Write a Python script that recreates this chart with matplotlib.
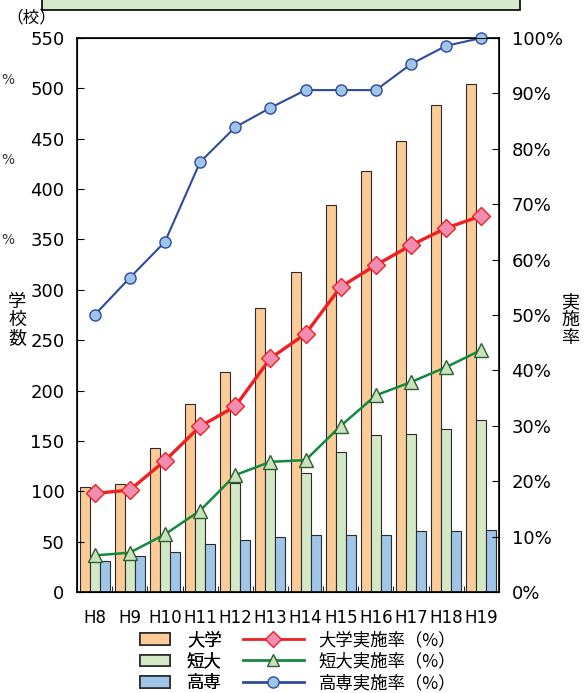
import numpy as np
import matplotlib
matplotlib.use("Agg")
import matplotlib.pyplot as plt
from matplotlib.patches import Patch, Rectangle
from matplotlib.lines import Line2D
from matplotlib.ticker import FixedLocator

plt.rcParams['font.family'] = ['DejaVu Sans', 'Noto Sans CJK JP']

years = ['H8', 'H9', 'H10', 'H11', 'H12', 'H13', 'H14', 'H15', 'H16', 'H17', 'H18', 'H19']

# school counts
univ = [104, 107, 143, 187, 218, 282, 318, 384, 418, 448, 483, 504]
junior = [31, 34, 53, 76, 108, 125, 118, 139, 156, 157, 162, 171]
kosen = [31, 36, 40, 48, 52, 55, 57, 57, 57, 61, 61, 62]

# implementation rates (%)
univ_rate = [17.8, 18.4, 23.7, 29.9, 33.5, 42.2, 46.6, 55.1, 59.0, 62.6, 65.7, 67.9]
junior_rate = [6.6, 7.1, 10.4, 14.7, 21.1, 23.5, 23.8, 30.0, 35.5, 37.9, 40.6, 43.7]
kosen_rate = [50.0, 56.7, 63.2, 77.6, 83.9, 87.4, 90.6, 90.6, 90.6, 95.3, 98.6, 100.0]

c_univ, c_junior, c_kosen = '#FBCB98', '#D3E8C5', '#9FC5E8'
edge = '#2b2b2b'
jp = ['Noto Sans CJK JP', 'DejaVu Sans']

fig = plt.figure(figsize=(5.88, 6.93), dpi=100)

# header box running off the top
fig.patches.append(Rectangle((42 / 588, 1 - 10 / 693), (520 - 42) / 588, 0.05,
                             transform=fig.transFigure, facecolor='#D5EACB',
                             edgecolor='black', linewidth=1.2))
for yy in (80, 160, 240):
    fig.text(0.002, 1 - yy / 693, '%', fontsize=10, color='#333333', va='center')

ax = fig.add_axes([77 / 588, 1 - 592 / 693, 422 / 588, 554 / 693])
x = np.arange(len(years))
w = 0.284
ax.bar(x - w, univ, w, color=c_univ, edgecolor=edge, linewidth=0.8)
ax.bar(x, junior, w, color=c_junior, edgecolor=edge, linewidth=0.8)
ax.bar(x + w, kosen, w, color=c_kosen, edgecolor=edge, linewidth=0.8)

ax.set_xlim(-0.5, len(years) - 0.5)
ax.set_ylim(0, 550)
ax.set_yticks(range(0, 551, 50))
ax.set_xticks(x)
ax.set_xticklabels(years)
ax.xaxis.set_minor_locator(FixedLocator(x[:-1] + 0.5))
ax.tick_params(axis='x', which='major', length=0, labelsize=12, pad=12)
ax.tick_params(axis='x', which='minor', direction='in', length=4)
ax.tick_params(axis='y', direction='in', length=5, labelsize=13, pad=9)
for s in ax.spines.values():
    s.set_linewidth(1.2)

ax2 = ax.twinx()
ax2.plot(x, univ_rate, color='#EE2024', linewidth=2.4, marker='D', markersize=9,
         markerfacecolor='#F28DB2', markeredgecolor='#EE2024', markeredgewidth=1, clip_on=False)
ax2.plot(x, junior_rate, color='#12893E', linewidth=1.8, marker='^', markersize=10,
         markerfacecolor='#C8E3BC', markeredgecolor='#2E5E2E', markeredgewidth=1, clip_on=False)
ax2.plot(x, kosen_rate, color='#2E4A9E', linewidth=1.5, marker='o', markersize=8,
         markerfacecolor='#9FC5E8', markeredgecolor='#2E4A9E', markeredgewidth=1, clip_on=False)
ax2.set_ylim(0, 100)
ax2.set_yticks(range(0, 101, 10))
ax2.set_yticklabels([f'{v}%' for v in range(0, 101, 10)])
ax2.tick_params(axis='y', direction='in', length=5, labelsize=13, pad=9)

fig.text(6 / 588, 1 - 18 / 693, '（校）', fontsize=12, va='center', ha='left', family=jp)
fig.text(17 / 588, 1 - 320 / 693, '学\n校\n数', fontsize=13, va='center', ha='center',
         linespacing=1.0, family=jp)
fig.text(570 / 588, 1 - 320 / 693, '実\n施\n率', fontsize=13, va='center', ha='center',
         linespacing=1.0, family=jp)

bar_handles = [Patch(facecolor=c, edgecolor=edge, linewidth=1.2) for c in (c_univ, c_junior, c_kosen)]
leg1 = fig.legend(bar_handles, ['大学', '短大', '高専'], loc='upper left',
                  bbox_to_anchor=(140 / 588, 1 - 631 / 693), frameon=False,
                  prop={'family': jp, 'size': 12.5},
                  handlelength=1.75, handleheight=0.65, handletextpad=0.95,
                  labelspacing=0.2, borderpad=0, borderaxespad=0)
line_handles = [
    Line2D([], [], color='#EE2024', linewidth=2, marker='D', markersize=8,
           markerfacecolor='#F28DB2', markeredgecolor='#EE2024'),
    Line2D([], [], color='#12893E', linewidth=2, marker='^', markersize=9,
           markerfacecolor='#C8E3BC', markeredgecolor='#2E5E2E'),
    Line2D([], [], color='#2E4A9E', linewidth=2, marker='o', markersize=8,
           markerfacecolor='#9FC5E8', markeredgecolor='#2E4A9E'),
]
fig.legend(line_handles, ['大学実施率（%）', '短大実施率（%）', '高専実施率（%）'],
           loc='upper left', bbox_to_anchor=(243 / 588, 1 - 631 / 693), frameon=False,
           prop={'family': jp, 'size': 12.5}, handlelength=3.5, handletextpad=0.85,
           labelspacing=0.2, borderpad=0, borderaxespad=0)
fig.add_artist(leg1)

fig.savefig('out.png', dpi=100)
